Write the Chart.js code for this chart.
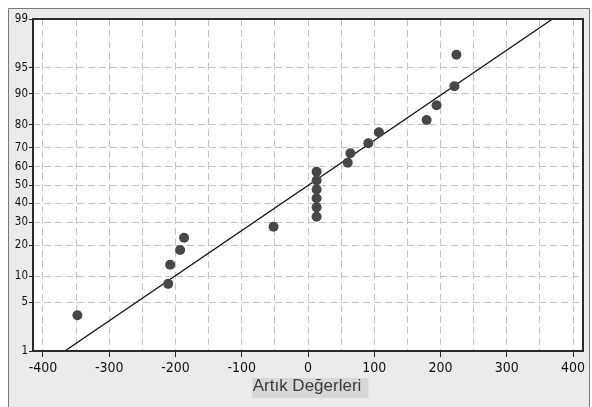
<!DOCTYPE html>
<html><head><meta charset="utf-8">
<script src="https://cdn.jsdelivr.net/npm/chart.js@4"></script>
<style>html,body{margin:0;padding:0;background:#fff;}#wrap{width:592px;height:407px;position:relative}</style>
</head><body><div id="wrap"><canvas id="c" width="592" height="407"></canvas></div>
<script>
// ---- data ----
const residuals = [-348, -211, -208, -193, -187, -52, 13, 13, 13, 13, 13, 13, 60, 64, 91, 107, 179, 194, 221, 224];
const percents  = [3.4, 8.3, 13.2, 18.1, 23.0, 27.9, 32.8, 37.7, 42.6, 47.5, 52.5, 57.4, 62.3, 67.2, 72.1, 77.0, 81.9, 86.8, 91.7, 96.6];
const fitLineX  = [-367, 369];
const fitLineP  = [1, 99];
const yTickPercents = [1, 5, 10, 20, 30, 40, 50, 60, 70, 80, 90, 95, 99];
const xTickValues = [-400, -350, -300, -250, -200, -150, -100, -50, 0, 50, 100, 150, 200, 250, 300, 350, 400];
const xLabelValues = [-400, -300, -200, -100, 0, 100, 200, 300, 400];
const axisTitle = 'Artık Değerleri';

// probability-scale transform (inverse standard normal CDF, Acklam)
function probit(p) {
  const a = [-3.969683028665376e+01, 2.209460984245205e+02, -2.759285104469687e+02, 1.383577518672690e+02, -3.066479806614716e+01, 2.506628277459239e+00];
  const b = [-5.447609879822406e+01, 1.615858368580409e+02, -1.556989798598866e+02, 6.680131188771972e+01, -1.328068155288572e+01];
  const c = [-7.784894002430293e-03, -3.223964580411365e-01, -2.400758277161838e+00, -2.549732539343734e+00, 4.374664141464968e+00, 2.938163982698783e+00];
  const d = [7.784695709041462e-03, 3.224671290700398e-01, 2.445134137142996e+00, 3.754408661907416e+00];
  const pl = 0.02425, ph = 1 - pl;
  let q, r;
  if (p < pl) { q = Math.sqrt(-2 * Math.log(p)); return (((((c[0]*q+c[1])*q+c[2])*q+c[3])*q+c[4])*q+c[5]) / ((((d[0]*q+d[1])*q+d[2])*q+d[3])*q+1); }
  if (p <= ph) { q = p - 0.5; r = q*q; return (((((a[0]*r+a[1])*r+a[2])*r+a[3])*r+a[4])*r+a[5])*q / (((((b[0]*r+b[1])*r+b[2])*r+b[3])*r+b[4])*r+1); }
  q = Math.sqrt(-2 * Math.log(1 - p)); return -(((((c[0]*q+c[1])*q+c[2])*q+c[3])*q+c[4])*q+c[5]) / ((((d[0]*q+d[1])*q+d[2])*q+d[3])*q+1);
}

const yMin = probit(yTickPercents[0] / 100), yMax = probit(yTickPercents[yTickPercents.length - 1] / 100);

const bgPlugin = {
  id: 'bg',
  beforeDraw(chart) {
    const {ctx, chartArea: ca, width, height} = chart;
    ctx.save();
    ctx.fillStyle = '#ffffff'; ctx.fillRect(0, 0, width, height);
    ctx.fillStyle = '#ebebeb'; ctx.fillRect(8, 8, 582, height);
    ctx.strokeStyle = '#7a7a7a'; ctx.lineWidth = 1;
    ctx.beginPath();
    ctx.moveTo(8.5, height); ctx.lineTo(8.5, 8.5); ctx.lineTo(589.5, 8.5); ctx.lineTo(589.5, height);
    ctx.stroke();
    ctx.fillStyle = '#ffffff'; ctx.fillRect(ca.left, ca.top, ca.right - ca.left, ca.bottom - ca.top);
    ctx.restore();
  },
  afterDraw(chart) {
    const {ctx, chartArea: ca} = chart;
    ctx.save();
    ctx.strokeStyle = '#2a2a2a'; ctx.lineWidth = 2;
    ctx.strokeRect(ca.left, ca.top, ca.right - ca.left, ca.bottom - ca.top);
    ctx.font = '17px "Liberation Sans", Arial, sans-serif';
    const w = ctx.measureText(axisTitle).width;
    const cx = (ca.left + ca.right) / 2 - 1;
    ctx.fillStyle = '#d7d7d7';
    ctx.fillRect(cx - w / 2 - 0.5, 378, w + 7.5, 20);
    ctx.fillStyle = '#3c3c3c';
    ctx.textAlign = 'center'; ctx.textBaseline = 'alphabetic';
    ctx.fillText(axisTitle, cx, 391);
    ctx.restore();
  }
};

const pts = residuals.map((x, i) => ({x, y: probit(percents[i] / 100)}));
const linePts = fitLineX.map((x, i) => ({x, y: probit(fitLineP[i] / 100)}));

new Chart(document.getElementById('c'), {
  type: 'scatter',
  data: {
    datasets: [
      { data: pts, backgroundColor: '#474747', borderWidth: 0, pointRadius: 5, pointHoverRadius: 5 },
      { type: 'line', data: linePts, borderColor: '#111111', borderWidth: 1.3, pointRadius: 0, fill: false, tension: 0 }
    ]
  },
  options: {
    responsive: false,
    animation: false,
    devicePixelRatio: 1,
    layout: { padding: { left: 0, top: 19, right: 9, bottom: 0 } },
    plugins: { legend: { display: false }, tooltip: { enabled: false } },
    scales: {
      x: {
        type: 'linear', min: -415, max: 415,
        afterBuildTicks: s => { s.ticks = xTickValues.map(v => ({value: v})); },
        afterFit: s => { s.height = 56; },
        ticks: {
          autoSkip: false, maxRotation: 0, padding: 3, color: '#111',
          font: { family: '"DejaVu Sans Condensed", "DejaVu Sans", sans-serif', size: 14 },
          callback: v => xLabelValues.includes(v) ? String(v) : ''
        },
        grid: {
          color: '#c4c4c4', lineWidth: 1, borderDash: [7, 4], tickLength: 6, tickWidth: 1, tickBorderDash: [],
          tickColor: c => (c.tick && xLabelValues.includes(c.tick.value)) ? '#222' : 'rgba(0,0,0,0)'
        },
        border: { display: false, dash: [7, 4] }
      },
      y: {
        type: 'linear', min: yMin, max: yMax,
        afterBuildTicks: s => { s.ticks = yTickPercents.map(p => ({value: probit(p / 100)})); },
        afterFit: s => { s.width = 33; },
        ticks: {
          autoSkip: false, padding: 1, color: '#111',
          font: { family: '"DejaVu Sans Condensed", "DejaVu Sans", sans-serif', size: 11.5 },
          callback: (v, i) => String(yTickPercents[i])
        },
        grid: { color: '#c4c4c4', lineWidth: 1, borderDash: [7, 4], tickLength: 4, tickWidth: 1, tickBorderDash: [], tickColor: '#222' },
        border: { display: false, dash: [7, 4] }
      }
    }
  },
  plugins: [bgPlugin]
});
</script>
</body></html>
